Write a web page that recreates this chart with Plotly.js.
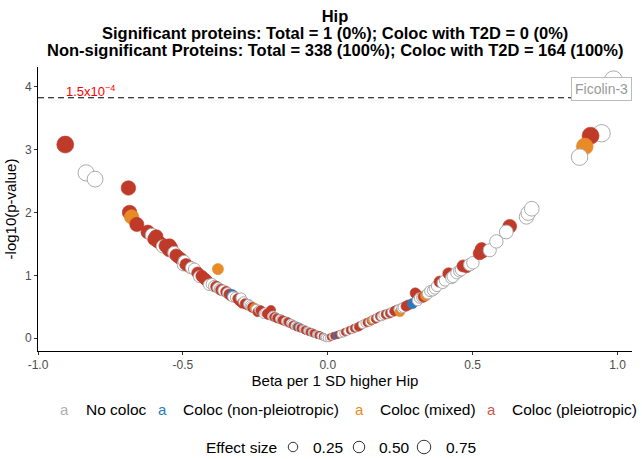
<!DOCTYPE html>
<html><head><meta charset="utf-8">
<script src="https://cdn.plot.ly/plotly-3.0.1.min.js"></script>
<style>html,body{margin:0;padding:0;background:#fff}#chart{width:642px;height:459px}</style>
</head><body><div id="chart"></div>
<script>
// ---- data ----
const beta = [
 -0.906,-0.834,-0.803,-0.688,-0.684,-0.677,-0.659,-0.621,-0.606,-0.598,
 -0.592,-0.586,-0.575,-0.569,-0.560,-0.548,-0.546,-0.540,-0.530,-0.523,
 -0.515,-0.506,-0.498,-0.495,-0.489,-0.475,-0.470,-0.460,-0.449,-0.443,
 -0.435,-0.426,-0.420,-0.415,-0.409,-0.400,-0.392,-0.385,-0.379,-0.378,
 -0.372,-0.368,-0.360,-0.351,-0.345,-0.340,-0.335,-0.329,-0.327,-0.318,
 -0.310,-0.305,-0.299,-0.295,-0.290,-0.285,-0.277,-0.273,-0.268,-0.264,
 -0.260,-0.252,-0.247,-0.242,-0.236,-0.232,-0.228,-0.221,-0.215,-0.210,
 -0.205,-0.196,-0.192,-0.188,-0.185,-0.178,-0.175,-0.170,-0.165,-0.160,
 -0.157,-0.152,-0.148,-0.145,-0.140,-0.137,-0.132,-0.128,-0.124,-0.120,
 -0.116,-0.113,-0.108,-0.105,-0.100,-0.097,-0.093,-0.085,-0.081,-0.078,
 -0.074,-0.070,-0.066,-0.062,-0.058,-0.055,-0.051,-0.048,-0.044,-0.040,
 -0.036,-0.032,-0.028,-0.025,-0.018,-0.014,-0.010,-0.004,
 0.004,0.010,0.016,0.022,0.031,0.038,0.045,0.054,0.060,0.068,
 0.077,0.085,0.092,0.100,0.106,0.112,0.120,0.129,0.136,0.144,
 0.150,0.152,0.158,0.165,0.172,0.180,0.186,0.192,0.200,0.208,
 0.215,0.222,0.230,0.238,0.245,0.249,0.255,0.260,0.270,0.278,
 0.292,0.302,0.306,0.310,0.317,0.325,0.330,0.338,0.345,0.353,
 0.363,0.370,0.377,0.386,0.397,0.405,0.417,0.427,0.432,0.445,
 0.455,0.461,0.467,0.479,0.490,0.501,0.524,0.531,0.535,0.559,
 0.582,0.628,0.616,0.686,0.692,0.704,0.945,0.907,0.887,0.869,
 0.986
];
const negLog10P = [
 3.08,2.63,2.53,2.39,2.00,1.93,1.81,1.69,1.64,1.58,
 1.62,1.54,1.50,1.46,1.47,1.40,1.48,1.44,1.36,1.32,
 1.29,1.26,1.17,1.22,1.17,1.13,1.12,1.10,1.04,0.98,
 0.99,0.95,0.93,0.90,0.85,0.86,0.83,0.82,1.10,0.80,
 0.78,0.77,0.76,0.74,0.72,0.70,0.68,0.69,0.66,0.65,
 0.63,0.60,0.64,0.56,0.58,0.55,0.53,0.54,0.52,0.50,
 0.49,0.48,0.46,0.42,0.45,0.44,0.43,0.39,0.41,0.39,
 0.37,0.45,0.35,0.36,0.34,0.33,0.32,0.31,0.31,0.30,
 0.29,0.28,0.27,0.27,0.26,0.26,0.24,0.24,0.23,0.21,
 0.21,0.20,0.19,0.18,0.18,0.17,0.16,0.15,0.14,0.13,
 0.12,0.12,0.11,0.10,0.10,0.09,0.08,0.08,0.07,0.06,
 0.06,0.05,0.05,0.04,0.03,0.02,0.01,0.00,
 0.00,0.02,0.03,0.04,0.05,0.06,0.07,0.08,0.10,0.11,
 0.13,0.14,0.16,0.17,0.18,0.20,0.22,0.24,0.25,0.26,
 0.28,0.29,0.30,0.31,0.33,0.35,0.35,0.37,0.38,0.39,
 0.40,0.42,0.43,0.45,0.46,0.42,0.48,0.49,0.51,0.53,
 0.55,0.72,0.70,0.60,0.64,0.65,0.66,0.68,0.71,0.75,
 0.76,0.79,0.83,0.90,0.88,0.92,1.03,0.96,0.98,1.04,
 1.07,1.09,1.15,1.14,1.17,1.20,1.35,1.42,1.38,1.40,
 1.54,1.78,1.69,1.93,1.99,2.06,3.26,3.22,3.05,2.88,
 4.11
];
// N = No coloc, B = Coloc (non-pleiotropic), M = Coloc (mixed), P = Coloc (pleiotropic)
const coloc = [
 'P','N','N','P','P','M','P','P','N','P',
 'P','P','P','N','P','P','P','P','N','P',
 'P','P','N','N','P','P','N','N','P','N',
 'P','P','P','P','N','N','N','P','M','N',
 'N','P','N','P','N','P','P','B','N','N',
 'P','P','N','P','N','P','P','N','N','N',
 'P','M','N','P','N','P','P','N','N','P',
 'P','P','N','N','P','N','P','P','N','N',
 'P','P','P','N','N','P','P','N','N','P',
 'P','N','N','P','B','N','P','N','N','P',
 'P','N','N','P','P','N','N','P','P','N',
 'N','P','P','N','P','N','N','N',
 'N','P','N','P','B','P','N','N','P','N',
 'P','N','P','N','P','P','N','N','P','N',
 'P','M','N','P','N','P','N','N','P','N',
 'P','N','P','P','N','M','N','N','P','P',
 'B','P','P','N','N','N','P','M','N','N',
 'N','N','N','P','N','N','P','N','N','N',
 'N','N','P','P','N','N','P','P','P','N',
 'N','P','N','N','N','N','N','P','M','N',
 'N'
];
const labelText = 'Ficolin-3';   // the single significant protein (largest -log10 p)
const pThreshold = 1.5e-4;
const thresholdText = '1.5x10<sup>\u22124</sup>';

const legendCodes = ['N','B','M','P'];
const legendNames = ['No coloc','Coloc (non-pleiotropic)','Coloc (mixed)','Coloc (pleiotropic)'];
const sizeLegendValues = [0.25, 0.50, 0.75];
const sizeLegendLabels = ['0.25','0.50','0.75'];

const xTickVals = [-1, -0.5, 0, 0.5, 1];
const xTickText = ['-1.0','-0.5','0.0','0.5','1.0'];
const yTickVals = [0, 1, 2, 3, 4];
const yTickText = ['0','1','2','3','4'];

const titleLines = [
 'Hip',
 'Significant proteins: Total = 1 (0%); Coloc with T2D = 0 (0%)',
 'Non-significant Proteins: Total = 338 (100%); Coloc with T2D = 164 (100%)'
];
const xTitle = 'Beta per 1 SD higher Hip';
const yTitle = '-log10(p-value)';

// ---- styles ----
const FONT = 'Liberation Sans, Arial, Helvetica, sans-serif';
const fillColor = {N:'#FFFFFF', B:'#2B7BBA', M:'#E88A25', P:'#C03A2A'};
const edgeColor = {N:'#ABABAB', B:'#2B7BBA', M:'#E88A25', P:'#C03A2A'};
const keyColor  = {N:'#AFAFAF', B:'#2B7BBA', M:'#E88A25', P:'#D0584A'};
const markerDiameter = b => 7 + 11 * Math.abs(b);
const legendDiameter = v => 7.5 + 8 * v;

const W = 642, H = 459, ML = 38, MR = 10, MT = 67, MB = 108;
const PW = W - ML - MR, PH = H - MT - MB;
const pxX = px => (px - ML) / PW;
const pxY = py => (H - MB - py) / PH;

const labelIndex = negLog10P.indexOf(Math.max.apply(null, negLog10P));

const trace = {
  type: 'scatter', mode: 'markers',
  x: beta, y: negLog10P,
  marker: {
    symbol: 'circle',
    size: beta.map(markerDiameter),
    color: coloc.map(c => fillColor[c]),
    line: {color: coloc.map(c => edgeColor[c]), width: coloc.map(c => c === 'N' ? 1 : 0.6)},
    opacity: 1
  },
  text: coloc.map(c => legendNames[legendCodes.indexOf(c)]),
  hoverinfo: 'x+y+text',
  showlegend: false
};

const thrY = -Math.log10(pThreshold);

const annotations = [];
[1, 2].forEach((i) => {
  annotations.push({xref:'paper', yref:'paper', x: pxX(335), y: pxY(16 + 17 * i),
    xanchor:'center', yanchor:'middle', showarrow:false,
    text: '<b>' + titleLines[i] + '</b>', font:{family:FONT, size:16.5, color:'#000'}});
});
annotations.push({xref:'paper', yref:'y', x: pxX(64), y: thrY, xanchor:'left', yanchor:'bottom',
  yshift:-3, showarrow:false, text: thresholdText, font:{family:FONT, size:13, color:'#FF0000'}});
annotations.push({xref:'x', yref:'y', x: beta[labelIndex], y: negLog10P[labelIndex],
  xshift:-12, yshift:-9, showarrow:false, text: labelText,
  font:{family:FONT, size:14, color:'#9A9A9A'}, bgcolor:'#FFFFFF', bordercolor:'#BBBBBB',
  borderwidth:1, borderpad:3});
const keyX = [64, 162, 359, 491];
const nameX = [84, 181, 378, 510];
legendCodes.forEach((c, i) => {
  annotations.push({xref:'paper', yref:'paper', x: pxX(keyX[i]), y: pxY(409), xanchor:'center', yanchor:'middle',
    showarrow:false, text:'a', font:{family:FONT, size:15, color:keyColor[c]}});
  annotations.push({xref:'paper', yref:'paper', x: pxX(nameX[i]), y: pxY(409), xanchor:'left', yanchor:'middle',
    showarrow:false, text: legendNames[i], font:{family:FONT, size:15.5, color:'#000'}});
});
annotations.push({xref:'paper', yref:'paper', x: pxX(204), y: pxY(447), xanchor:'left', yanchor:'middle',
  showarrow:false, text:'Effect size', font:{family:FONT, size:15.5, color:'#000'}});
const circX = [293, 359, 424];
const sizeLabX = [311, 377, 444];
const shapes = [
  {type:'line', xref:'paper', yref:'y', x0:0, x1:1, y0:thrY, y1:thrY,
   line:{color:'#000', width:1.1, dash:'6px,4px'}, layer:'above'}
];
sizeLegendValues.forEach((v, i) => {
  const r = legendDiameter(v) / 2;
  shapes.push({type:'circle', xref:'paper', yref:'paper', xsizemode:'pixel', ysizemode:'pixel',
    xanchor: pxX(circX[i]), yanchor: pxY(447), x0:-r, x1:r, y0:-r, y1:r,
    line:{color:'#333', width:1}, fillcolor:'rgba(0,0,0,0)'});
  annotations.push({xref:'paper', yref:'paper', x: pxX(sizeLabX[i]), y: pxY(447), xanchor:'left', yanchor:'middle',
    showarrow:false, text: sizeLegendLabels[i], font:{family:FONT, size:15.5, color:'#000'}});
});

const layout = {
  width: W, height: H,
  margin: {l: ML, r: MR, t: MT, b: MB, pad: 0},
  paper_bgcolor: '#fff', plot_bgcolor: '#fff',
  font: {family: FONT, color: '#000'},
  title: {text: '<b>' + titleLines[0] + '</b>', font: {family: FONT, size: 16.5, color: '#000'},
    x: pxX(335), xref: 'paper', xanchor: 'center', y: 1 - 16 / H, yref: 'container', yanchor: 'middle'},
  xaxis: {
    range: [-1.0, 1.05], showgrid: false, zeroline: false, showline: true, linecolor: '#000', linewidth: 1,
    ticks: 'outside', ticklen: 3, tickcolor: '#333', tickwidth: 1,
    tickvals: xTickVals, ticktext: xTickText, tickfont: {family: FONT, size: 12, color: '#4D4D4D'},
    title: {text: xTitle, font: {family: FONT, size: 15, color: '#000'}, standoff: 4}
  },
  yaxis: {
    range: [-0.202, 4.313], showgrid: false, zeroline: false, showline: true, linecolor: '#000', linewidth: 1,
    ticks: 'outside', ticklen: 3, tickcolor: '#333', tickwidth: 1,
    tickvals: yTickVals, ticktext: yTickText, tickfont: {family: FONT, size: 12, color: '#4D4D4D'},
    title: {text: yTitle, font: {family: FONT, size: 15, color: '#000'}, standoff: 4}
  },
  showlegend: false,
  annotations: annotations,
  shapes: shapes
};

Plotly.newPlot('chart', [trace], layout, {displayModeBar: false, staticPlot: true});
</script>
</body></html>
